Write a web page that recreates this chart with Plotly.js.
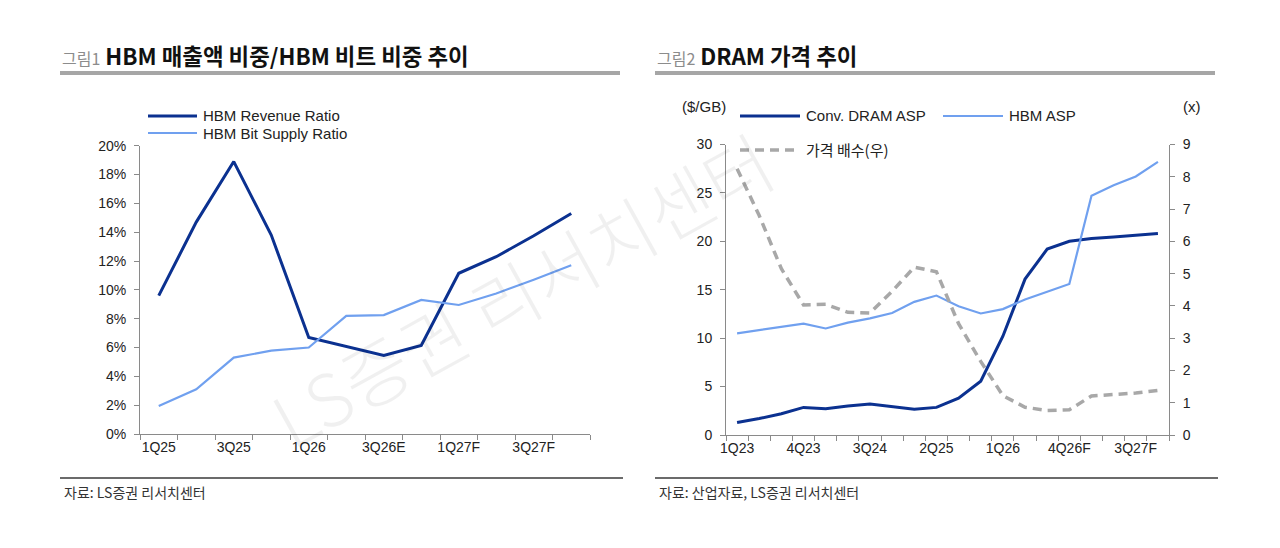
<!DOCTYPE html>
<html>
<head>
<meta charset="utf-8">
<script src="https://cdn.plot.ly/plotly-3.0.1.min.js"></script>
<style>
html,body{margin:0;padding:0;background:#ffffff;}
#chart{width:1280px;height:548px;}
</style>
</head>
<body>
<div id="chart"></div>
<script>
// ---------- Chart 1 data: HBM 매출액 비중 / HBM 비트 비중 ----------
const quarters1 = ['1Q25','2Q25','3Q25','4Q25','1Q26','2Q26','3Q26E','4Q26E','1Q27F','2Q27F','3Q27F','4Q27F'];
const shownLabels1 = ['1Q25','3Q25','1Q26','3Q26E','1Q27F','3Q27F'];
const hbmRevenueRatio = [9.6, 14.7, 18.9, 13.8, 6.7, 6.1, 5.45, 6.15, 11.15, 12.3, 13.75, 15.3];
const hbmBitSupplyRatio = [1.95, 3.1, 5.3, 5.78, 6.0, 8.2, 8.25, 9.3, 8.95, 9.75, 10.7, 11.7];
const yTicks1 = [0, 2, 4, 6, 8, 10, 12, 14, 16, 18, 20];

// ---------- Chart 2 data: DRAM 가격 추이 ----------
const quarters2 = ['1Q23','2Q23','3Q23','4Q23','1Q24','2Q24','3Q24','4Q24','1Q25','2Q25','3Q25','4Q25',
                   '1Q26','2Q26F','3Q26F','4Q26F','1Q27F','2Q27F','3Q27F','4Q27F'];
const shownLabels2 = ['1Q23','4Q23','3Q24','2Q25','1Q26','4Q26F','3Q27F'];
const convDramAsp = [1.3, 1.7, 2.2, 2.85, 2.7, 3.0, 3.2, 2.9, 2.65, 2.85, 3.8, 5.55, 10.2, 16.1, 19.2, 20.0, 20.3, 20.45, 20.6, 20.8];
const hbmAsp = [10.5, 10.85, 11.15, 11.5, 11.0, 11.6, 12.05, 12.6, 13.75, 14.4, 13.3, 12.55, 13.0, 14.0, 14.8, 15.6, 24.7, 25.8, 26.7, 28.2];
const priceMultiple = [8.25, 6.8, 5.15, 4.03, 4.05, 3.8, 3.78, 4.45, 5.2, 5.06, 3.45, 2.28, 1.22, 0.86, 0.76, 0.78, 1.21, 1.25, 1.3, 1.38];
const yTicks2Left = [0, 5, 10, 15, 20, 25, 30];
const yTicks2Right = [0, 1, 2, 3, 4, 5, 6, 7, 8, 9];

// ---------- text ----------
const title1Prefix = '그림1';
const title1 = 'HBM 매출액 비중/HBM 비트 비중 추이';
const title2Prefix = '그림2';
const title2 = 'DRAM 가격 추이';
const source1 = '자료: LS증권 리서치센터';
const source2 = '자료: 산업자료, LS증권 리서치센터';
const watermark = 'LS증권 리서치센터';
const seriesNames1 = ['HBM Revenue Ratio', 'HBM Bit Supply Ratio'];
const seriesNames2 = ['Conv. DRAM ASP', 'HBM ASP', '가격 배수(우)'];
const unitLeft2 = '($/GB)';
const unitRight2 = '(x)';

// ---------- styles ----------
const DARK = '#0b3190';
const LIGHT = '#70a0ef';
const GRAY = '#a8a8a8';
const AXIS = '#8a8a8a';
const TXT = '#222222';
const LATIN = 'Liberation Sans, Arial, sans-serif';
const KR = 'Noto Sans CJK KR, sans-serif';

const W = 1280, H = 548;
const px = x => x / W;
const py = y => 1 - y / H;

const idx1 = quarters1.map((q, i) => i);
const idx2 = quarters2.map((q, i) => i);

const traces = [
  {x: idx1, y: hbmRevenueRatio, xaxis: 'x', yaxis: 'y', mode: 'lines', name: seriesNames1[0],
   line: {color: DARK, width: 3}, showlegend: false},
  {x: idx1, y: hbmBitSupplyRatio, xaxis: 'x', yaxis: 'y', mode: 'lines', name: seriesNames1[1],
   line: {color: LIGHT, width: 2.2}, showlegend: false},
  {x: idx2, y: convDramAsp, xaxis: 'x2', yaxis: 'y2', mode: 'lines', name: seriesNames2[0],
   line: {color: DARK, width: 3}, showlegend: false},
  {x: idx2, y: hbmAsp, xaxis: 'x2', yaxis: 'y2', mode: 'lines', name: seriesNames2[1],
   line: {color: LIGHT, width: 2.2}, showlegend: false},
  {x: idx2, y: priceMultiple, xaxis: 'x2', yaxis: 'y3', mode: 'lines', name: seriesNames2[2],
   line: {color: GRAY, width: 3.5, dash: '9px,6px'}, showlegend: false}
];

const tickFont = {family: LATIN, size: 14, color: TXT};

function catAxis(domain, anchor, cats, shown) {
  return {
    domain: domain, anchor: anchor, type: 'linear',
    range: [-0.5, cats.length - 0.5],
    tickmode: 'array',
    tickvals: shown.map(l => cats.indexOf(l)),
    ticktext: shown,
    ticks: '',
    showline: true, linecolor: AXIS, linewidth: 1,
    showgrid: false, zeroline: false,
    tickfont: tickFont,
    minor: {ticks: 'outside', tick0: -0.5, dtick: 1, ticklen: 5, tickcolor: AXIS, tickwidth: 1, showgrid: false},
    fixedrange: true
  };
}

function valAxis(domain, anchor, ticks, suffix, side, overlaying) {
  const a = {
    domain: domain, anchor: anchor,
    range: [ticks[0], ticks[ticks.length - 1]],
    tickmode: 'array', tickvals: ticks,
    ticktext: ticks.map(v => v + suffix),
    ticks: 'outside', ticklen: 5, tickcolor: AXIS, tickwidth: 1,
    showline: true, linecolor: AXIS, linewidth: 1,
    showgrid: false, zeroline: false,
    tickfont: tickFont, ticklabelstandoff: 5,
    side: side, fixedrange: true
  };
  if (overlaying) { a.overlaying = overlaying; delete a.domain; }
  return a;
}

// custom legend: shapes + text
const shapes = [];
const annotations = [];

function legendItem(x0, x1, y, color, width, dash, text) {
  shapes.push({type: 'line', xref: 'paper', yref: 'paper', x0: px(x0), x1: px(x1), y0: py(y), y1: py(y),
               line: {color: color, width: width, dash: dash || 'solid'}});
  annotations.push({xref: 'paper', yref: 'paper', x: px(x1 + 4), y: py(y), xanchor: 'left', yanchor: 'middle',
                    text: text, showarrow: false,
                    font: {family: /[가-힣]/.test(text) ? KR : LATIN, size: 15, color: TXT}});
}

legendItem(148, 197, 116, DARK, 3, null, seriesNames1[0]);
legendItem(148, 197, 133, LIGHT, 2.2, null, seriesNames1[1]);
legendItem(740, 800, 116, DARK, 3, null, seriesNames2[0]);
legendItem(943, 1003, 116, LIGHT, 2.2, null, seriesNames2[1]);
legendItem(740, 800, 150, GRAY, 3.5, '9px,6px', seriesNames2[2]);

// title rules and footer rules
[[60, 620], [655, 1215]].forEach(([a, b]) => {
  shapes.push({type: 'line', xref: 'paper', yref: 'paper', x0: px(a), x1: px(b), y0: py(73), y1: py(73),
               line: {color: '#a6a6a6', width: 4}});
  shapes.push({type: 'line', xref: 'paper', yref: 'paper', x0: px(a), x1: px(b + 3), y0: py(478), y1: py(478),
               line: {color: '#3a3a3a', width: 1.5}});
});

// titles
function titleAnn(x, prefix, text) {
  annotations.push({xref: 'paper', yref: 'paper', x: px(x), y: py(55), xanchor: 'left', yanchor: 'middle',
    showarrow: false,
    text: '<span style="color:#8c8c8c;font-size:16px">' + prefix + '</span> <b>' + text + '</b>',
    font: {family: KR, size: 22.4, color: '#111111'}});
}
titleAnn(60, title1Prefix, title1);
titleAnn(655, title2Prefix, title2);

// sources
[[62, source1], [657, source2]].forEach(([x, t]) => {
  annotations.push({xref: 'paper', yref: 'paper', x: px(x), y: py(492), xanchor: 'left', yanchor: 'middle',
    showarrow: false, text: t, font: {family: KR, size: 14, color: '#333333'}});
});

// units
annotations.push({xref: 'paper', yref: 'paper', x: px(704), y: py(106), xanchor: 'center', yanchor: 'middle',
  showarrow: false, text: unitLeft2, font: {family: LATIN, size: 15, color: TXT}});
annotations.push({xref: 'paper', yref: 'paper', x: px(1192), y: py(106), xanchor: 'center', yanchor: 'middle',
  showarrow: false, text: unitRight2, font: {family: LATIN, size: 15, color: TXT}});

// watermark
annotations.push({xref: 'paper', yref: 'paper', x: px(520), y: py(288), xanchor: 'center', yanchor: 'middle',
  showarrow: false, text: watermark, textangle: -29,
  font: {family: KR, size: 72, weight: 300, color: 'rgba(0,0,0,0.06)'}});

const layout = {
  width: W, height: H,
  margin: {l: 0, r: 0, t: 0, b: 0, pad: 0},
  paper_bgcolor: '#ffffff', plot_bgcolor: 'rgba(0,0,0,0)',
  showlegend: false,
  xaxis: catAxis([px(140), px(590)], 'y', quarters1, shownLabels1),
  yaxis: valAxis([py(434), py(145.7)], 'x', yTicks1, '%', 'left'),
  xaxis2: catAxis([px(726), px(1169)], 'y2', quarters2, shownLabels2),
  yaxis2: valAxis([py(435), py(144.5)], 'x2', yTicks2Left, '', 'left'),
  yaxis3: valAxis(null, 'x2', yTicks2Right, '', 'right', 'y2'),
  shapes: shapes,
  annotations: annotations
};

Plotly.newPlot('chart', traces, layout, {staticPlot: true, displayModeBar: false});
</script>
</body>
</html>
